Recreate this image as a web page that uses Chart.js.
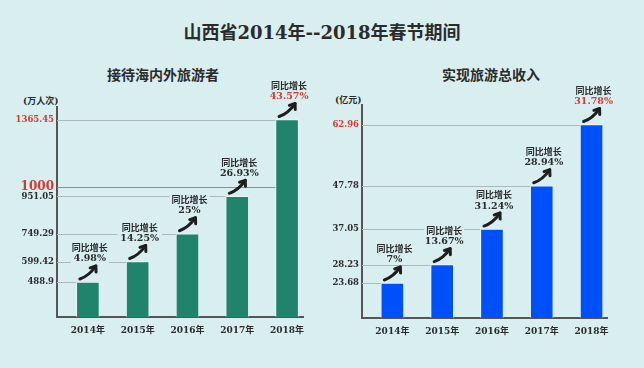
<!DOCTYPE html>
<html>
<head>
<meta charset="utf-8">
<script src="https://cdn.jsdelivr.net/npm/chart.js@4"></script>
<style>
  body { margin: 0; background: #d9efef; }
  #wrap { position: relative; width: 644px; height: 368px; overflow: hidden; }
  .txt { position: absolute; font-family: "DejaVu Serif", "Noto Sans CJK SC", serif; font-weight: bold; color: #2b2b2b; white-space: nowrap; }
  canvas { position: absolute; }
</style>
</head>
<body>
<div id="wrap">
  <div class="txt" style="left:0;width:644px;text-align:center;top:24px;font-size:18px;line-height:18px;">山西省2014年--2018年春节期间</div>
  <div class="txt" style="left:63px;width:200px;text-align:center;top:68px;font-size:14px;line-height:14px;">接待海内外旅游者</div>
  <div class="txt" style="left:391px;width:200px;text-align:center;top:68px;font-size:14px;line-height:14px;">实现旅游总收入</div>
  <div class="txt" style="left:23px;top:97px;font-size:9px;line-height:9px;">(万人次)</div>
  <div class="txt" style="left:335px;top:96px;font-size:9px;line-height:9px;">(亿元)</div>
  <canvas id="left" width="322" height="318" style="left:0;top:50px;"></canvas>
  <canvas id="right" width="322" height="318" style="left:322px;top:50px;"></canvas>
</div>
<script>
// data
const categories = ['2014年', '2015年', '2016年', '2017年', '2018年'];
const visitors = [488.9, 599.42, 749.29, 951.05, 1365.45];
const visitorGrowth = ['4.98%', '14.25%', '25%', '26.93%', '43.57%'];
const visitorTicks = [488.9, 599.42, 749.29, 951.05, 1000, 1365.45];
const visitorTarget = 1000;
const income = [23.68, 28.23, 37.05, 47.78, 62.96];
const incomeGrowth = ['7%', '13.67%', '31.24%', '28.94%', '31.78%'];
const incomeTicks = [23.68, 28.23, 37.05, 47.78, 62.96];

const FONT = '"DejaVu Serif", "Noto Sans CJK SC", serif';
const RED = '#d33a34';
const DARK = '#2b2b2b';
const BG = '#d9efef';

const growthPlugin = {
    id: 'growth',
    beforeDatasetsDraw(chart, args, opts) {
        const ctx = chart.ctx;
        const y = chart.scales.y;
        const bars = chart.getDatasetMeta(0).data;
        const vals = chart.data.datasets[0].data.map(d => d.y);
        ctx.save();
        opts.ticks.forEach(v => {
            let i = vals.findIndex(d => d >= v - 1e-9);
            if (i < 0) return;
            const py = Math.round(y.getPixelForValue(v)) + 0.5;
            ctx.strokeStyle = v === opts.target ? '#e06a66' : '#aab9b9';
            ctx.lineWidth = 1;
            ctx.beginPath();
            ctx.moveTo(chart.chartArea.left, py);
            ctx.lineTo(bars[i].x - bars[i].width / 2, py);
            ctx.stroke();
        });
        ctx.restore();
    },
    afterDatasetsDraw(chart, args, opts) {
        const ctx = chart.ctx;
        const bars = chart.getDatasetMeta(0).data;
        ctx.save();
        ctx.textAlign = 'center';
        ctx.textBaseline = 'middle';
        bars.forEach((bar, i) => {
            const cx = bar.x, top = bar.y;
            const tx = cx + 2;
            // labels
            ctx.font = 'bold 9px ' + FONT;
            let w = ctx.measureText('同比增长').width;
            ctx.fillStyle = BG;
            ctx.fillRect(tx - w / 2 - 2, top - 38, w + 4, 10);
            ctx.fillStyle = DARK;
            ctx.fillText('同比增长', tx, top - 33);
            ctx.font = 'bold 9.5px ' + FONT;
            w = ctx.measureText(opts.growth[i]).width;
            ctx.fillStyle = BG;
            ctx.fillRect(tx - w / 2 - 3, top - 28, w + 6, 10);
            ctx.fillStyle = i === bars.length - 1 ? RED : DARK;
            ctx.fillText(opts.growth[i], tx, top - 23);
            // arrow
            const x0 = cx - 8, y0 = top - 3;
            const x1 = cx + 8, y1 = top - 16;
            const qx = cx + 1, qy = top - 6;
            ctx.strokeStyle = '#1e1e1e';
            ctx.lineWidth = 3;
            ctx.lineCap = 'round';
            ctx.lineJoin = 'round';
            ctx.beginPath();
            ctx.moveTo(x0, y0);
            ctx.quadraticCurveTo(qx, qy, x1, y1);
            ctx.stroke();
            const ang = Math.atan2(y1 - qy, x1 - qx);
            const L = 6;
            ctx.beginPath();
            ctx.moveTo(x1 + L * Math.cos(ang + 2.5), y1 + L * Math.sin(ang + 2.5));
            ctx.lineTo(x1, y1);
            ctx.lineTo(x1 + L * Math.cos(ang - 2.5), y1 + L * Math.sin(ang - 2.5));
            ctx.stroke();
        });
        ctx.restore();
    }
};

function makeChart(id, values, growth, ticks, target, color, yMin, yMax, xMin, xMax, yWidth, xHeight, padding) {
    const top = Math.max(...values);
    const tickVal = c => (c && c.tick) ? c.tick.value : null;
    return new Chart(document.getElementById(id), {
        type: 'bar',
        data: {
            datasets: [{
                data: values.map((v, i) => ({ x: i, y: v })),
                backgroundColor: color,
                borderColor: 'rgba(255,255,255,0.45)',
                borderWidth: 1,
                borderSkipped: 'bottom',
                barThickness: 23
            }]
        },
        options: {
            responsive: false,
            animation: false,
            layout: { padding: padding },
            plugins: {
                legend: { display: false },
                tooltip: { enabled: false },
                growth: { growth: growth, ticks: ticks, target: target }
            },
            scales: {
                x: {
                    type: 'linear',
                    offset: false,
                    min: xMin,
                    max: xMax,
                    grid: { display: false, drawTicks: false, offset: false },
                    border: { display: true, color: '#555', width: 2 },
                    afterBuildTicks: s => { s.ticks = categories.map((c, i) => ({ value: i })); },
                    afterFit: s => { s.height = xHeight; },
                    ticks: {
                        autoSkip: false,
                        maxRotation: 0,
                        padding: 8,
                        color: DARK,
                        font: { family: FONT, size: 9, weight: 'bold' },
                        callback: v => categories[v]
                    }
                },
                y: {
                    min: yMin,
                    max: yMax,
                    grid: { display: false, drawTicks: false },
                    border: { display: true, color: '#555', width: 2 },
                    afterBuildTicks: s => { s.ticks = ticks.map(v => ({ value: v })); },
                    afterFit: s => { s.width = yWidth; },
                    ticks: {
                        autoSkip: false,
                        padding: 3,
                        color: c => (tickVal(c) === target || tickVal(c) === top) ? RED : DARK,
                        font: c => ({ family: FONT, size: tickVal(c) === target ? 12 : 8.5, weight: 'bold' }),
                        callback: v => String(v)
                    }
                }
            }
        },
        plugins: [growthPlugin]
    });
}

makeChart('left', visitors, visitorGrowth, visitorTicks, visitorTarget, '#1f8469',
    300, 1433, -0.62, 4.32, 57, 51, { left: 0, right: 19, top: 57, bottom: 0 });
makeChart('right', income, incomeGrowth, incomeTicks, null, '#0050fa',
    15, 67.8, -0.61, 4.31, 40, 50, { left: 0, right: 37, top: 55, bottom: 0 });
</script>
</body>
</html>
